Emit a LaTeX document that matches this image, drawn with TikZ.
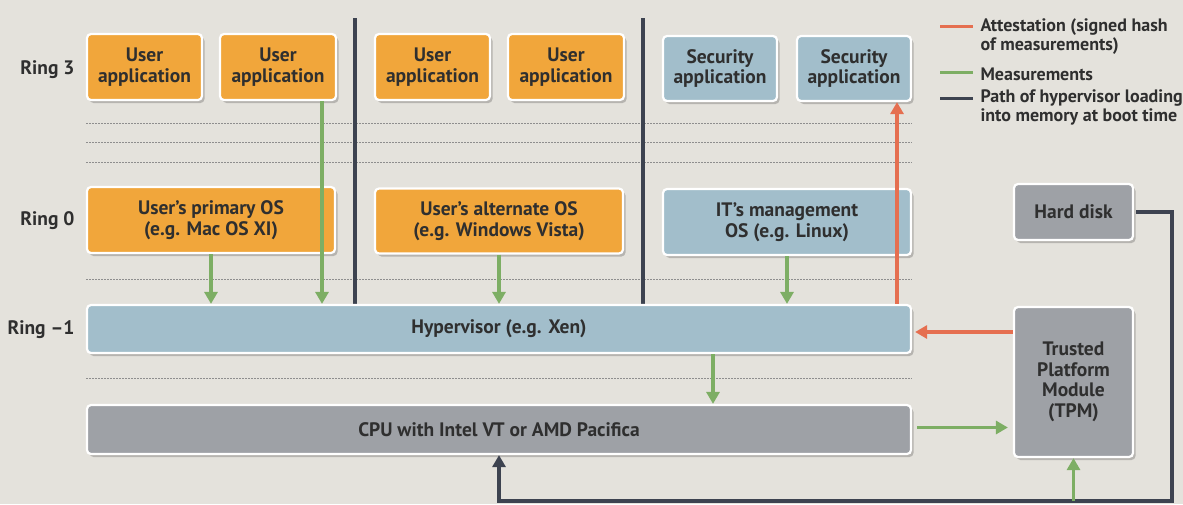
\documentclass[tikz,border=0pt]{standalone}
\usepackage{fontspec}
\setmainfont{PT Sans}
\usetikzlibrary{arrows.meta,shadows}
\definecolor{bgcol}{HTML}{E4E2DC}
\definecolor{appor}{HTML}{F1A63B}
\definecolor{secbl}{HTML}{A2BECB}
\definecolor{hwgr}{HTML}{9EA1A6}
\definecolor{txtcol}{HTML}{2F2F2F}
\definecolor{attred}{HTML}{E56F50}
\definecolor{measgr}{HTML}{7DAE64}
\definecolor{bootdk}{HTML}{3D4350}
\definecolor{dotgr}{HTML}{8E8E8E}

\begin{document}
\begin{tikzpicture}[x=1pt,y=1pt,yscale=-1,
    box/.style={draw=white,line width=2.2pt,rounded corners=4pt,align=center,text=txtcol,
      font=\fontsize{19.5}{20.5}\selectfont\bfseries,inner sep=0pt,
      drop shadow={shadow xshift=2.5pt,shadow yshift=-3pt,opacity=0.2,fill=black}},
    userbox/.style={box,fill=appor},
    secbox/.style={box,fill=secbl},
    hwbox/.style={box,fill=hwgr},
    ringlbl/.style={anchor=east,text=txtcol,font=\fontsize{19.5}{20}\selectfont\bfseries},
    keylbl/.style={anchor=west,align=left,text=txtcol,font=\fontsize{18}{19}\selectfont\bfseries},
    dots/.style={dotgr,line width=0.9pt,dash pattern=on 1.6pt off 1.4pt},
    meas/.style={measgr,line width=3.2pt,-{Triangle[width=13pt,length=12pt]}},
    attest/.style={attred,line width=3.2pt,-{Triangle[width=13pt,length=12pt]}},
    boot/.style={bootdk,line width=3.2pt,-{Triangle[width=13pt,length=12pt]}},
    sep/.style={bootdk,line width=4pt}]
\fill[bgcol] (0,0) rectangle (1183,504);
\useasboundingbox (0,0) rectangle (1183,504);

\foreach \yy in {123,142,162,279,378}
  \draw[dots] (86,\yy) -- (912,\yy);
\draw[sep] (355,18) -- (355,305);
\draw[sep] (643,18) -- (643,305);

\node[ringlbl] (r3) at (78,70) {Ring 3};
\node[ringlbl] (r0) at (78,221) {Ring 0};
\node[ringlbl] (rm1) at (78,330) {Ring --1};

\node[userbox,minimum width=115pt,minimum height=66pt] (app1) at (144.5,67) {User\\application};
\node[userbox,minimum width=116pt,minimum height=66pt] (app2) at (278,67) {User\\application};
\node[userbox,minimum width=115pt,minimum height=66pt] (app3) at (432.5,67) {User\\application};
\node[userbox,minimum width=116pt,minimum height=66pt] (app4) at (566,67) {User\\application};
\node[secbox,minimum width=114pt,minimum height=65pt] (sec1) at (720,68.5) {Security\\application};
\node[secbox,minimum width=114pt,minimum height=65pt] (sec2) at (854,68.5) {Security\\application};

\node[userbox,minimum width=248pt,minimum height=66pt] (prios) at (211,220) {User's primary OS\\(e.g. Mac OS XI)};
\node[userbox,minimum width=248pt,minimum height=65pt] (altos) at (499,221) {User's alternate OS\\(e.g. Windows Vista)};
\node[secbox,minimum width=248pt,minimum height=66pt] (itos) at (787,222) {IT's management\\OS (e.g. Linux)};

\node[secbox,minimum width=824pt,minimum height=48pt] (hyp) at (499,329) {Hypervisor (e.g. Xen)};
\node[hwbox,minimum width=824pt,minimum height=49pt] (cpu) at (499,429.5) {CPU with Intel VT or AMD Pacifica};

\node[hwbox,minimum width=119pt,minimum height=56pt] (disk) at (1073.5,212) {Hard disk};
\node[hwbox,minimum width=119pt,minimum height=150pt] (tpm) at (1073.5,382) {Trusted\\Platform\\Module\\(TPM)};

\draw[meas] (prios.south) -- (prios.south |- hyp.north);
\draw[meas] ([xshift=44pt]app2.south) -- ([xshift=44pt]app2.south |- hyp.north);
\draw[meas] (altos.south) -- (altos.south |- hyp.north);
\draw[meas] (itos.south) -- (itos.south |- hyp.north);
\draw[meas] ([xshift=214pt]hyp.south) -- ([xshift=214pt]hyp.south |- cpu.north);
\draw[meas,shorten <=5pt,shorten >=5pt] ([yshift=-2pt]cpu.east) -- ([yshift=-2pt]cpu.east -| tpm.west);
\draw[attest] ([xshift=43pt]sec2.south |- hyp.north) -- ([xshift=43pt]sec2.south);
\draw[attest,shorten >=3pt] ([yshift=-50pt]tpm.west) -- ([yshift=-50pt]tpm.west -| hyp.east);

\coordinate (bootturn) at (1172,501);
\draw[boot,shorten <=2pt] (disk.east) -| (bootturn) -| (cpu.south);
\draw[meas] (tpm.south |- bootturn) -- (tpm.south);

\draw[attred,line width=3pt] (940,26) -- (973,26);
\draw[measgr,line width=3pt] (940,72) -- (973,72);
\draw[bootdk,line width=3pt] (940,98) -- (973,98);
\node[keylbl] (katt) at (977,37) {Attestation (signed hash\\of measurements)};
\node[keylbl] (kmeas) at (977,74) {Measurements};
\node[keylbl] (kboot) at (977,107) {Path of hypervisor loading\\into memory at boot time};
\end{tikzpicture}
\end{document}
